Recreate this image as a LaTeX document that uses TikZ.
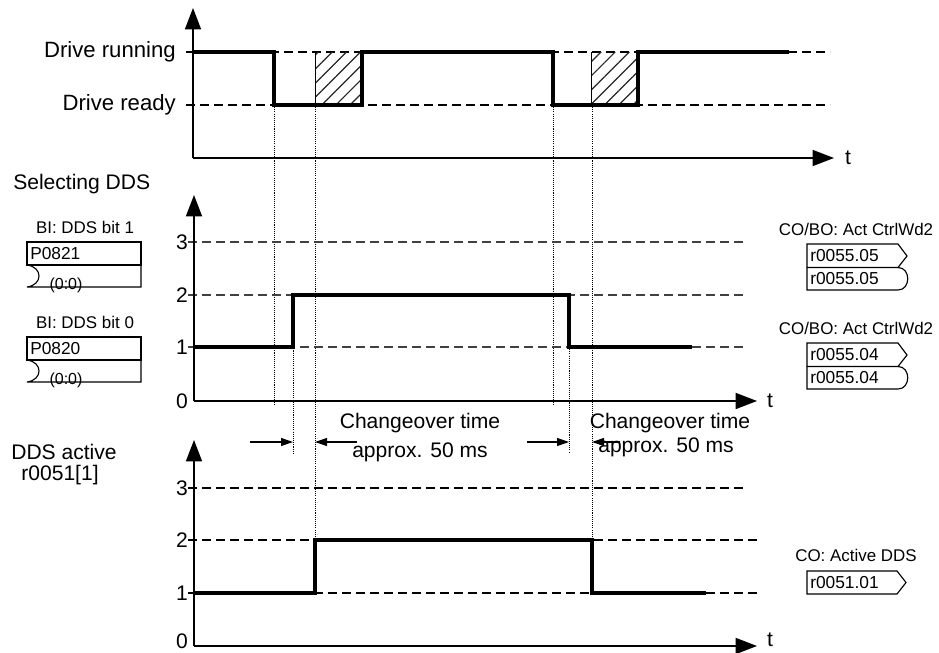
\documentclass[tikz,border=0pt]{standalone}
\usepackage{fontspec}
\setmainfont{Liberation Sans}
\usetikzlibrary{arrows.meta, patterns.meta, positioning}

\begin{document}
\begin{tikzpicture}[x=0.75pt, y=-0.75pt,
    signal/.style={line width=2.4pt, line join=miter},
    axis/.style={line width=1.1pt, -{Triangle[length=16pt,width=12pt]}},
    level/.style={line width=0.85pt, dash pattern=on 6.5pt off 4pt},
    guide/.style={line width=0.7pt, dash pattern=on 0.8pt off 0.8pt},
    span/.style={line width=0.85pt, -{Triangle[length=9pt,width=6pt]}},
    hatch/.style={pattern={Lines[angle=45,distance=7.5pt,line width=0.9pt]}, pattern color=black!85},
    lbl/.style={font=\fontsize{15.8}{18}\selectfont, inner sep=0pt},
    state/.style={font=\fontsize{16.6}{19}\selectfont, inner sep=0pt, anchor=east},
    tag/.style={font=\fontsize{12.7}{15}\selectfont, inner sep=0pt},
    port/.style={font=\fontsize{13}{15}\selectfont, inner sep=0pt, anchor=west},
    box/.style={line width=0.85pt}
  ]
  \useasboundingbox (0,0) rectangle (939,653);

  % drive state
  \coordinate (oa) at (193,158);
  \draw[level] (186,52) -- (830,52);
  \draw[level] (186,105) -- (830,105);
  \fill[hatch] (315,52) rectangle (362,105);
  \fill[hatch] (591,52) rectangle (638,105);
  \draw[line width=0.7pt] (315,52) -- (315,105) (591,52) -- (591,105);
  \draw[axis] (oa) -- (193,8);
  \draw[axis] (oa) -- (834,158);
  \node[lbl] (ta) at (848,158) {t};
  \node[state] (running) at (176,52) {Drive running};
  \node[state] (ready) at (176,105) {Drive ready};
  \draw[signal] (oa |- running) -- (274,52) -- (274,105) -- (362,105) -- (362,52)
    -- (553,52) -- (553,105) -- (638,105) -- (638,52) -- (789,52);

  % guides
  \draw[guide] (274,105) -- (274,404);
  \draw[guide] (293,295) -- (293,453);
  \draw[guide] (315,105) -- (315,540);
  \draw[guide] (553,105) -- (553,404);
  \draw[guide] (569,347) -- (569,453);
  \draw[guide] (592,105) -- (592,540);

  % selecting DDS
  \node[lbl, anchor=west] (selecting) at (13,184) {Selecting DDS};
  \coordinate (ob) at (194,401);
  \foreach \v/\y in {1/347, 2/295, 3/242}
    \draw[level, black!75] (188,\y) -- (743,\y);
  \foreach \v/\y in {0/401, 1/347, 2/295, 3/242}
    \node[lbl, anchor=east] (sel\v) at (188,\y) {\v};
  \draw[axis] (ob) -- (194,195);
  \draw[axis] (ob) -- (757,401);
  \node[lbl] (tb) at (770,401) {t};
  \draw[signal] (ob |- sel1) -- (293,347) -- (293,295) -- (569,295) -- (569,347) -- (692,347);

  % binector inputs
  \foreach \y/\b/\pname in {242/1/P0821, 337/0/P0820} {
    \node[tag] (bitlbl\b) at (85,\y-15) {BI: DDS bit \b};
    \draw[box] (27,\y) rectangle (141,\y+23);
    \draw[box] (27,\y+23) .. controls (43,\y+25) and (43,\y+43) .. (27,\y+45)
      -- (141,\y+45) -- (141,\y+23);
    \node[port] (bit\b) at (30,\y+11.5) {\pname};
    \node[tag, font=\fontsize{12}{14}\selectfont] (def\b) at (66,\y+43) {(0:0)};
  }

  % connector outputs
  \foreach \y/\b in {244/05, 343/04} {
    \node[tag] (ctrl\b) at (856,\y-15) {CO/BO: Act CtrlWd2};
    \draw[box] (807,\y) -- (898,\y) -- (907,\y+12) -- (898,\y+23.5) -- (807,\y+23.5) -- cycle;
    \draw[box] (807,\y+23.5) -- (807,\y+46) -- (898,\y+46)
      .. controls (911,\y+46) and (911,\y+23.5) .. (898,\y+23.5);
    \node[port] (co\b) at (810,\y+12) {r0055.\b};
    \node[port] (bo\b) at (810,\y+35) {r0055.\b};
  }

  % changeover
  \coordinate (ca) at (293,442);
  \coordinate (cb) at (315,442);
  \coordinate (cc) at (569,442);
  \coordinate (cd) at (592,442);
  \draw[span] (ca) ++(-43,0) -- (ca);
  \draw[span] (cb) ++(42,0) -- (cb);
  \draw[span] (cc) ++(-42,0) -- (cc);
  \draw[span] (cd) ++(28,0) -- (cd);
  \node[lbl] (chga) at (420,423) {Changeover time};
  \node[lbl] (appa) at (420,452) {approx. 50 ms};
  \node[lbl] (chgb) at (670,423) {Changeover time};
  \node[lbl] (appb) at (666,447) {approx. 50 ms};

  % DDS active
  \node[lbl] (active) at (64,452) {DDS active};
  \node[lbl] (actpar) at (60,475) {r0051[1]};
  \coordinate (oc) at (194,646);
  \draw[level] (188,488) -- (745,488);
  \draw[level] (188,540) -- (757,540);
  \draw[level] (188,593) -- (757,593);
  \foreach \v/\y in {1/593, 2/540, 3/488}
    \node[lbl, anchor=east] (act\v) at (188,\y) {\v};
  \node[lbl, anchor=east] (act0) at (188,641) {0};
  \draw[axis] (oc) -- (194,440);
  \draw[axis] (oc) -- (757,646);
  \node[lbl] (tc) at (770,640) {t};
  \draw[signal] (oc |- act1) -- (315,593) -- (315,540) -- (592,540) -- (592,593) -- (706,593);

  \node[tag] (coact) at (856,555) {CO: Active DDS};
  \draw[box] (807,571) -- (897,571) -- (906,582.5) -- (897,594) -- (807,594) -- cycle;
  \node[port] (ddsout) at (810,582.5) {r0051.01};
\end{tikzpicture}
\end{document}
